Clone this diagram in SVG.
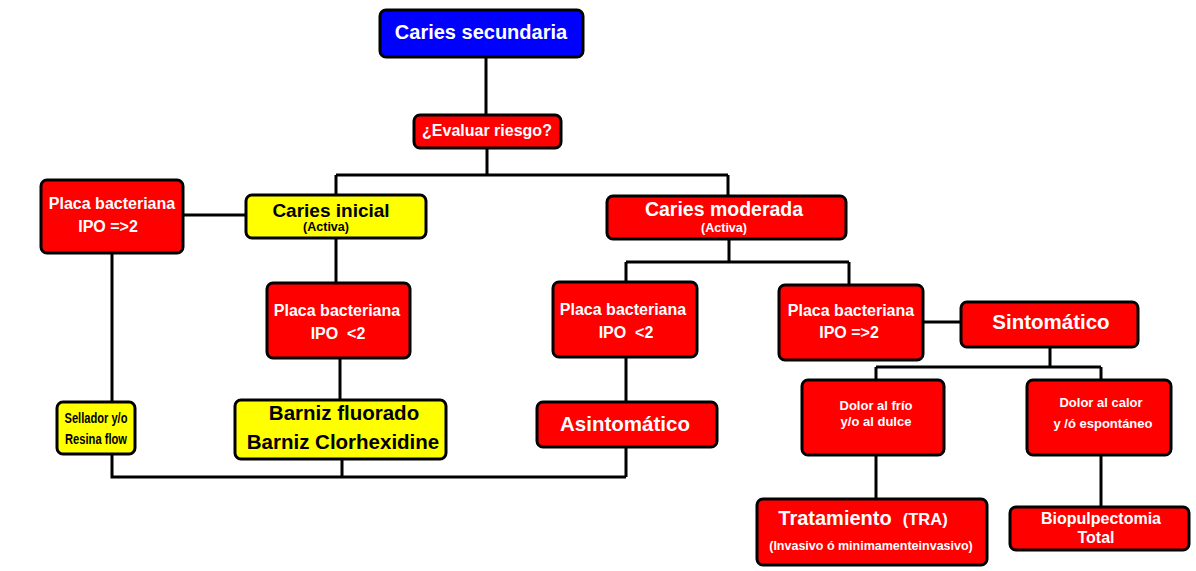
<svg xmlns="http://www.w3.org/2000/svg" width="1196" height="571" viewBox="0 0 1196 571">
<style>
.b{stroke:#000;stroke-width:3;rx:6;ry:6}
.red{fill:#FF0000}.yel{fill:#FFFF00}.blu{fill:#0000FF}
text{font-family:"Liberation Sans",Arial,sans-serif;font-weight:bold;text-anchor:middle}
.w{fill:#fff}.k{fill:#000}
.c{fill:none;stroke:#000;stroke-width:3}
</style>
<rect width="1196" height="571" fill="#fff"/>
<g id="connectors" class="c">
<path d="M486 57V115"/>
<path d="M487 148V175M336 175H728M336 175V195M728 175V196"/>
<path d="M183 215H246"/>
<path d="M112 253V402"/>
<path d="M336 238V283"/>
<path d="M340 358V400"/>
<path d="M112 454V477H626M342 459V477M626 447V477"/>
<path d="M729 239V262M626 262H849M626 262V282M849 262V285"/>
<path d="M626 357V402"/>
<path d="M923 322H961"/>
<path d="M1050 347V367M876 367H1101M876 367V380M1101 367V380"/>
<path d="M876 455V499"/>
<path d="M1101 455V507"/>
</g>
<g id="n_caries_secundaria"><rect class="b blu" x="380" y="10" width="203" height="47"/><text class="w" x="481" y="39" font-size="20">Caries secundaria</text></g>
<g id="n_evaluar"><rect class="b red" x="414" y="115" width="147" height="33"/><text class="w" x="487" y="136" font-size="16">¿Evaluar riesgo?</text></g>
<g id="n_caries_inicial"><rect class="b yel" x="246" y="195" width="180" height="43"/><text class="k" x="331" y="217" font-size="19">Caries inicial</text><text class="k" x="326" y="231" font-size="12" textLength="46" lengthAdjust="spacingAndGlyphs">(Activa)</text></g>
<g id="n_caries_moderada"><rect class="b red" x="607" y="196" width="239" height="43"/><text class="w" x="724" y="216" font-size="19.5">Caries moderada</text><text class="w" x="724" y="232" font-size="12" textLength="46" lengthAdjust="spacingAndGlyphs">(Activa)</text></g>
<g id="n_placa_izq"><rect class="b red" x="41" y="180" width="142" height="73"/><text class="w" x="112" y="209" font-size="16">Placa bacteriana</text><text class="w" x="108" y="232" font-size="16">IPO =&gt;2</text></g>
<g id="n_sellador"><rect class="b yel" x="57" y="402" width="78" height="52"/><text class="k" x="96" y="423" font-size="14" textLength="63" lengthAdjust="spacingAndGlyphs">Sellador y/o</text><text class="k" x="96" y="444" font-size="14" textLength="62" lengthAdjust="spacingAndGlyphs">Resina flow</text></g>
<g id="n_placa_ini"><rect class="b red" x="267" y="283" width="143" height="75"/><text class="w" x="337" y="316" font-size="16">Placa bacteriana</text><text class="w" x="338" y="339" font-size="16" xml:space="preserve">IPO  &lt;2</text></g>
<g id="n_barniz"><rect class="b yel" x="235" y="400" width="211" height="59"/><text class="k" x="344" y="420" font-size="20.5">Barniz fluorado</text><text class="k" x="343" y="449" font-size="20.5">Barniz Clorhexidine</text></g>
<g id="n_placa_mod1"><rect class="b red" x="553" y="282" width="144" height="75"/><text class="w" x="623" y="315" font-size="16">Placa bacteriana</text><text class="w" x="626" y="338" font-size="16" xml:space="preserve">IPO  &lt;2</text></g>
<g id="n_asintomatico"><rect class="b red" x="537" y="402" width="180" height="45"/><text class="w" x="625" y="431" font-size="20.5">Asintomático</text></g>
<g id="n_placa_mod2"><rect class="b red" x="779" y="285" width="144" height="75"/><text class="w" x="851" y="316" font-size="16">Placa bacteriana</text><text class="w" x="849" y="338" font-size="16">IPO =&gt;2</text></g>
<g id="n_sintomatico"><rect class="b red" x="961" y="302" width="177" height="45"/><text class="w" x="1051" y="329" font-size="20.5">Sintomático</text></g>
<g id="n_dolor_frio"><rect class="b red" x="802" y="380" width="142" height="75"/><text class="w" x="876" y="410" font-size="13">Dolor al frío</text><text class="w" x="876" y="426" font-size="13">y/o al dulce</text></g>
<g id="n_dolor_calor"><rect class="b red" x="1027" y="380" width="144" height="75"/><text class="w" x="1101" y="407" font-size="13">Dolor al calor</text><text class="w" x="1103" y="428" font-size="13">y /ó espontáneo</text></g>
<g id="n_tratamiento"><rect class="b red" x="757" y="499" width="230" height="66"/><text class="w" x="863" y="525" font-size="20" xml:space="preserve">Tratamiento  <tspan font-size="16.5">(TRA)</tspan></text><text class="w" x="871" y="550" font-size="12.5">(Invasivo ó minimamenteinvasivo)</text></g>
<g id="n_biopulpectomia"><rect class="b red" x="1010" y="507" width="179" height="43"/><text class="w" x="1101" y="524" font-size="16">Biopulpectomia</text><text class="w" x="1096" y="543" font-size="16">Total</text></g>
</svg>
